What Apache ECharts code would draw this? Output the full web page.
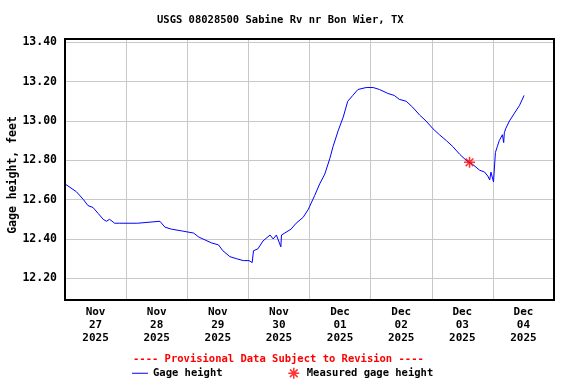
<!DOCTYPE html>
<html><head><meta charset="utf-8">
<script src="https://cdn.jsdelivr.net/npm/echarts@6/dist/echarts.min.js"></script>
<style>html,body{margin:0;padding:0;background:#fff}#c{width:576px;height:384px}</style>
</head><body><div id="c"></div>
<script>
const titleText = 'USGS 08028500 Sabine Rv nr Bon Wier, TX';
const provisionalText = '---- Provisional Data Subject to Revision ----';
const dayLabels = ['Nov\n27\n2025','Nov\n28\n2025','Nov\n29\n2025','Nov\n30\n2025','Dec\n01\n2025','Dec\n02\n2025','Dec\n03\n2025','Dec\n04\n2025'];
const yTicks = [12.2, 13.4, 0.2];
const times = [
 '2025-11-27 00:00','2025-11-27 04:30','2025-11-27 07:15','2025-11-27 09:00','2025-11-27 11:00','2025-11-27 13:00',
 '2025-11-27 15:00','2025-11-27 16:15','2025-11-27 17:30','2025-11-27 19:30','2025-11-27 21:30','2025-11-28 04:30',
 '2025-11-28 05:00','2025-11-28 13:15','2025-11-28 15:15','2025-11-28 17:45','2025-11-28 22:15','2025-11-29 02:30',
 '2025-11-29 04:30','2025-11-29 09:30','2025-11-29 12:15','2025-11-29 14:00','2025-11-29 16:45','2025-11-29 19:15',
 '2025-11-29 22:00','2025-11-30 00:15','2025-11-30 00:45','2025-11-30 01:30','2025-11-30 02:00','2025-11-30 03:45',
 '2025-11-30 05:45','2025-11-30 08:30','2025-11-30 09:45','2025-11-30 11:00','2025-11-30 12:45','2025-11-30 13:00',
 '2025-11-30 14:15','2025-11-30 16:45','2025-11-30 18:45','2025-11-30 21:30','2025-11-30 23:30','2025-12-01 02:00',
 '2025-12-01 04:00','2025-12-01 06:00','2025-12-01 08:00','2025-12-01 09:15','2025-12-01 11:15','2025-12-01 13:15',
 '2025-12-01 15:00','2025-12-01 17:00','2025-12-01 19:00','2025-12-01 22:15','2025-12-01 23:00','2025-12-02 01:00',
 '2025-12-02 03:30','2025-12-02 06:45','2025-12-02 09:15','2025-12-02 11:15','2025-12-02 14:00','2025-12-02 16:30',
 '2025-12-02 19:15','2025-12-02 21:45','2025-12-03 00:30','2025-12-03 03:00','2025-12-03 05:45','2025-12-03 08:15',
 '2025-12-03 11:00','2025-12-03 13:30','2025-12-03 16:00','2025-12-03 18:45','2025-12-03 20:45','2025-12-03 22:00',
 '2025-12-03 22:45','2025-12-03 23:15','2025-12-04 00:00','2025-12-04 00:15','2025-12-04 01:00','2025-12-04 01:45',
 '2025-12-04 02:30','2025-12-04 03:45','2025-12-04 04:15','2025-12-04 04:30','2025-12-04 05:00','2025-12-04 06:30',
 '2025-12-04 08:30','2025-12-04 10:30','2025-12-04 12:15'
];
const gageHeight = [
 12.68,12.64,12.60,12.57,12.56,12.53,
 12.50,12.49,12.50,12.48,12.48,12.48,
 12.49,12.49,12.46,12.45,12.44,12.43,
 12.41,12.38,12.37,12.34,12.31,12.30,
 12.29,12.29,12.28,12.28,12.34,12.35,
 12.39,12.42,12.40,12.42,12.36,12.42,
 12.43,12.45,12.48,12.51,12.55,12.62,
 12.68,12.73,12.81,12.87,12.95,13.02,
 13.10,13.13,13.16,13.17,13.18,13.17,
 13.16,13.14,13.13,13.11,13.10,13.07,
 13.03,13.00,12.96,12.93,12.90,12.87,
 12.83,12.80,12.78,12.75,12.74,12.72,
 12.70,12.74,12.73,12.69,12.84,12.87,
 12.90,12.93,12.89,12.94,12.96,13.00,
 13.04,13.08,13.13
];
const measuredTimes = ['2025-12-03 14:50'];
const measuredHeight = [12.79];

const FONT = 'DejaVu Sans Mono';
const asterisk = 'path://M5,0L5,10M0,5L10,5M1.5,1.5L8.5,8.5M8.5,1.5L1.5,8.5';
const lineIcon = 'path://M0,0L16,0L16,1L0,1Z';

const chart = echarts.init(document.getElementById('c'), null, {renderer:'canvas'});
chart.setOption({
  animation: false,
  backgroundColor: '#ffffff',
  title: [
    {text: titleText, left: 157, top: 15, padding: 0,
     textStyle: {fontFamily: FONT, fontWeight: 'bold', fontSize: 10.5, color: '#000'}},
    {text: provisionalText, left: 133, top: 354, padding: 0,
     textStyle: {fontFamily: FONT, fontWeight: 'bold', fontSize: 10.5, color: '#ff0000'}}
  ],
  legend: {
    left: 132, top: 367, padding: 0, itemWidth: 16, itemHeight: 11, itemGap: 65,
    textStyle: {fontFamily: FONT, fontWeight: 'bold', fontSize: 10.5, color: '#000'},
    data: [
      {name: 'Gage height', icon: lineIcon, itemStyle: {color: '#0000ff', borderWidth: 0}},
      {name: 'Measured gage height', icon: asterisk, itemStyle: {color: '#ff0000', borderColor: '#ff0000', borderWidth: 1.5}}
    ]
  },
  grid: [
    {left: 65, right: 22, top: 39, bottom: 84, show: true, z: 5, borderColor: '#000', borderWidth: 2,
     backgroundColor: 'transparent', outerBoundsMode: 'none', containLabel: false},
    {left: 65, right: 22, top: 42.3, bottom: 105.7, outerBoundsMode: 'none', containLabel: false}
  ],
  xAxis: [
    {type: 'category', gridIndex: 0, data: dayLabels, boundaryGap: true,
     axisLine: {show: false}, axisTick: {show: false},
     splitLine: {show: true, interval: 0, lineStyle: {color: '#c8c8c8', width: 1}},
     axisLabel: {interval: 0, margin: 6, lineHeight: 13, fontFamily: FONT, fontWeight: 'bold', fontSize: 11, color: '#000'}},
    {type: 'time', gridIndex: 1, min: times[0], max: '2025-12-05 00:00', show: false}
  ],
  yAxis: [
    {type: 'value', gridIndex: 0, min: 0, max: 1,
     axisLine: {show: false}, axisTick: {show: false}, axisLabel: {show: false}, splitLine: {show: false},
     name: 'Gage height, feet', nameLocation: 'middle', nameGap: 46,
     nameTextStyle: {fontFamily: FONT, fontWeight: 'bold', fontSize: 11.5, color: '#000', padding: [0, 11, 0, 0]}},
    {type: 'value', gridIndex: 1, min: yTicks[0], max: yTicks[1], interval: yTicks[2],
     axisLine: {show: false}, axisTick: {show: false},
     splitLine: {show: true, lineStyle: {color: '#c8c8c8', width: 1}},
     axisLabel: {margin: 8, formatter: v => v.toFixed(2), fontFamily: FONT, fontWeight: 'bold', fontSize: 11.5, color: '#000'}}
  ],
  series: [
    {name: 'Gage height', type: 'line', xAxisIndex: 1, yAxisIndex: 1, symbol: 'none',
     lineStyle: {color: '#0000ff', width: 1}, itemStyle: {color: '#0000ff'},
     data: times.map((t, i) => [t, gageHeight[i]])},
    {name: 'Measured gage height', type: 'scatter', xAxisIndex: 1, yAxisIndex: 1, z: 4,
     symbol: asterisk, symbolSize: 11,
     itemStyle: {color: '#ff0000', borderColor: '#ff0000', borderWidth: 1.5},
     data: measuredTimes.map((t, i) => [t, measuredHeight[i]])}
  ]
});
</script></body></html>
